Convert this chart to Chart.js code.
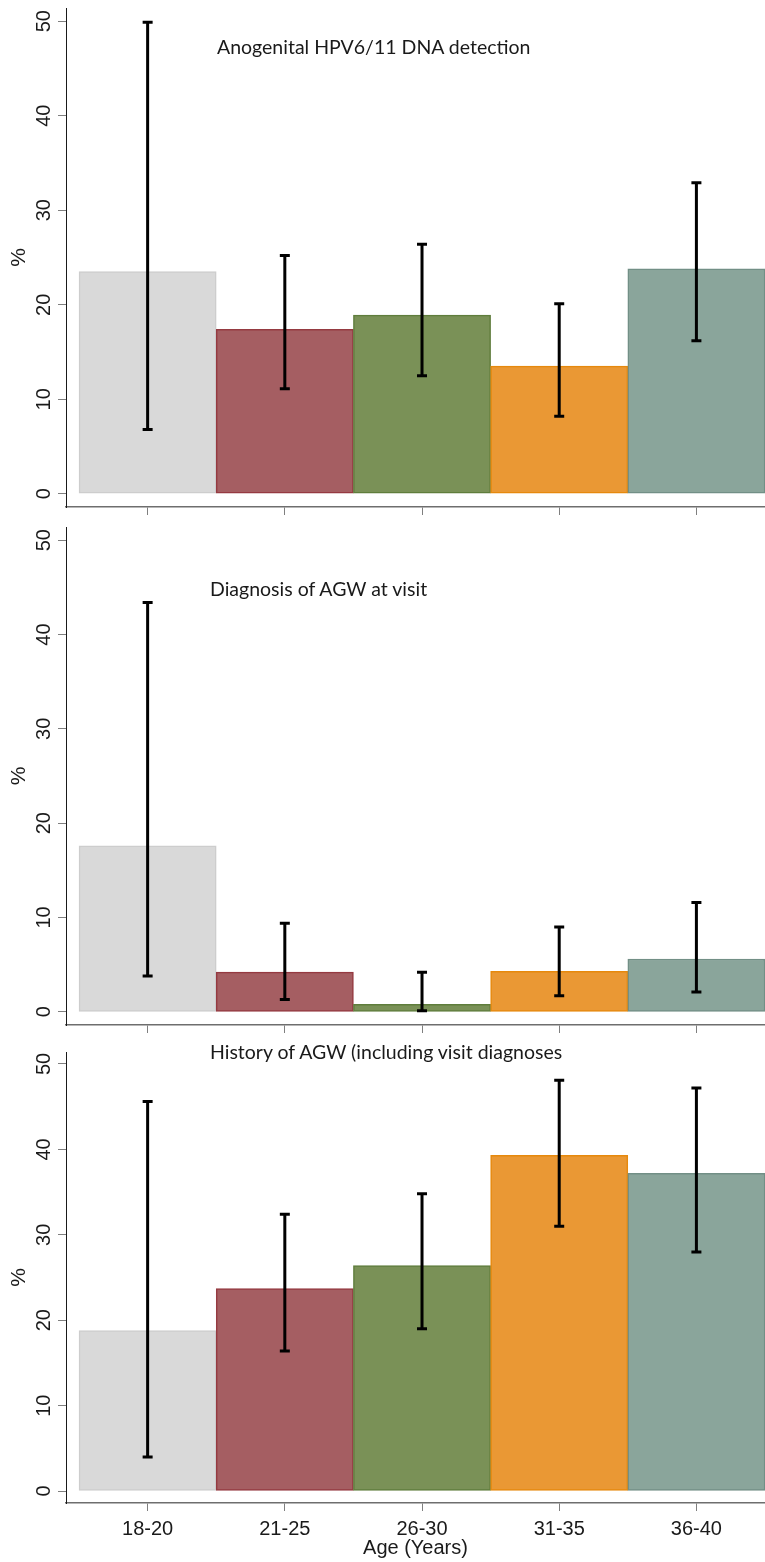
<!DOCTYPE html>
<html>
<head>
<meta charset="utf-8">
<title>HPV6/11 and AGW by age group</title>
<script src="https://cdn.jsdelivr.net/npm/chart.js@4.4.1/dist/chart.umd.min.js"></script>
<style>
  html, body { margin: 0; padding: 0; background: #fff; }
  #page { position: relative; width: 765px; height: 1562px; overflow: hidden; }
  canvas { position: absolute; left: 0; }
  .panel-title {
    position: absolute;
    font-family: Lato, "Open Sans", sans-serif;
    font-size: 19.5px;
    line-height: 1;
    color: #1a1a1a;
    white-space: nowrap;
  }
</style>
</head>
<body>
<div id="page">
  <canvas id="hpv-chart" width="765" height="520" style="top:0"></canvas>
  <canvas id="agw-visit-chart" width="765" height="520" style="top:520px"></canvas>
  <canvas id="agw-history-chart" width="765" height="522" style="top:1040px"></canvas>

  <div class="panel-title" style="left:217px; top:37px">Anogenital HPV6/11 DNA detection</div>
  <div class="panel-title" style="left:210px; top:579px">Diagnosis of AGW at visit</div>
  <div class="panel-title" style="left:210px; top:1042px">History of AGW (including visit diagnoses</div>
</div>

<script>
// age groups and y ticks shared by all three panels
const ageGroups = ['18-20', '21-25', '26-30', '31-35', '36-40'];
const pctTicks = [0, 10, 20, 30, 40, 50];

// anogenital HPV6/11 DNA detection (%), with 95% CI
const hpvPct  = [23.5, 17.4, 18.9, 13.5, 23.8];
const hpvLow  = [6.8, 11.1, 12.5, 8.2, 16.2];
const hpvHigh = [49.9, 25.2, 26.4, 20.1, 32.9];

// AGW diagnosed at the visit (%)
const visitPct  = [17.6, 4.2, 0.8, 4.3, 5.6];
const visitLow  = [3.8, 1.3, 0.1, 1.7, 2.1];
const visitHigh = [43.4, 9.4, 4.2, 9.0, 11.6];

// history of AGW incl. visit diagnoses (%)
const historyPct  = [18.8, 23.7, 26.4, 39.3, 37.2];
const historyLow  = [4.0, 16.4, 19.0, 31.0, 28.0];
const historyHigh = [45.6, 32.4, 34.8, 48.1, 47.2];

const barFill   = ['#d9d9d9', '#a55e62', '#7a9157', '#ea9834', '#8aa59b'];
const barBorder = ['#cdcdcd', '#953a41', '#5f7d3c', '#e6890d', '#728f86'];

const tickFont = { family: '"Liberation Sans", Arial, sans-serif', size: 20 };
const inkColor = '#1a1a1a';

// CI whiskers with flat caps
const errorBars = {
    id: 'errorBars',
    afterDatasetsDraw(chart, args, opts) {
        const { ctx, scales: { x, y } } = chart;
        ctx.save();
        ctx.strokeStyle = '#000';
        ctx.lineWidth = 3;
        ctx.lineCap = 'butt';
        opts.low.forEach((lo, i) => {
            const px = x.getPixelForValue(i);
            const yLo = y.getPixelForValue(lo);
            const yHi = y.getPixelForValue(opts.high[i]);
            ctx.beginPath();
            ctx.moveTo(px, yLo);
            ctx.lineTo(px, yHi);
            ctx.moveTo(px - 5, yLo);
            ctx.lineTo(px + 5, yLo);
            ctx.moveTo(px - 5, yHi);
            ctx.lineTo(px + 5, yHi);
            ctx.stroke();
        });
        ctx.restore();
    }
};

// y tick labels turned on their side, reading upwards
const sideTicks = {
    id: 'sideTicks',
    afterDraw(chart) {
        const { ctx } = chart;
        const yScale = chart.scales.y;
        const tl = yScale.options.grid.tickLength;
        ctx.save();
        ctx.fillStyle = inkColor;
        ctx.font = `${tickFont.size}px ${tickFont.family}`;
        ctx.textAlign = 'center';
        ctx.textBaseline = 'alphabetic';
        yScale.ticks.forEach(t => {
            ctx.save();
            ctx.translate(yScale.right - tl - 8, yScale.getPixelForValue(t.value));
            ctx.rotate(-Math.PI / 2);
            ctx.fillText(String(t.value), 0, 0);
            ctx.restore();
        });
        ctx.restore();
    }
};

function makePanel(id, values, low, high, padTop, xHeight, showAge) {
    const ctx = document.getElementById(id).getContext('2d');
    return new Chart(ctx, {
        type: 'bar',
        data: {
            datasets: [{
                data: values.map((v, i) => ({ x: i, y: v })),
                backgroundColor: barFill,
                borderColor: barBorder,
                borderWidth: 1.5,
                borderSkipped: false,
                barPercentage: 1,
                categoryPercentage: 1
            }]
        },
        options: {
            responsive: false,
            animation: false,
            layout: { padding: { top: padTop, left: 0, right: 0, bottom: 0 } },
            plugins: {
                legend: { display: false },
                tooltip: { enabled: false },
                errorBars: { low, high }
            },
            scales: {
                x: {
                    type: 'linear',
                    offset: false,
                    min: -0.595,
                    max: 4.5,
                    afterBuildTicks: axis => { axis.ticks = ageGroups.map((_, i) => ({ value: i })); },
                    afterFit: axis => { axis.height = xHeight; },
                    ticks: {
                        display: showAge,
                        autoSkip: false,
                        maxRotation: 0,
                        padding: 6,
                        color: inkColor,
                        font: tickFont,
                        callback: v => ageGroups[v]
                    },
                    grid: { offset: false, drawOnChartArea: false, tickLength: 8, tickColor: '#7f7f7f' },
                    border: { display: true, color: '#6e6e6e', width: 1.5 },
                    title: {
                        display: showAge,
                        text: 'Age (Years)',
                        color: inkColor,
                        font: tickFont,
                        padding: { top: 0, bottom: 2 }
                    }
                },
                y: {
                    min: -1.4,
                    max: 51.4,
                    afterBuildTicks: axis => { axis.ticks = pctTicks.map(v => ({ value: v })); },
                    afterFit: axis => { axis.width = 66; },
                    ticks: { display: false },
                    grid: { drawOnChartArea: false, tickLength: 8, tickColor: '#7f7f7f' },
                    border: { display: true, color: inkColor, width: 1 },
                    title: {
                        display: true,
                        text: '%',
                        color: inkColor,
                        font: { family: tickFont.family, size: 21 },
                        padding: { top: 7, bottom: 0 }
                    }
                }
            }
        },
        plugins: [errorBars, sideTicks]
    });
}

makePanel('hpv-chart', hpvPct, hpvLow, hpvHigh, 8, 13, false);
makePanel('agw-visit-chart', visitPct, visitLow, visitHigh, 7, 15, false);
makePanel('agw-history-chart', historyPct, historyLow, historyHigh, 12, 59, true);
</script>
</body>
</html>
